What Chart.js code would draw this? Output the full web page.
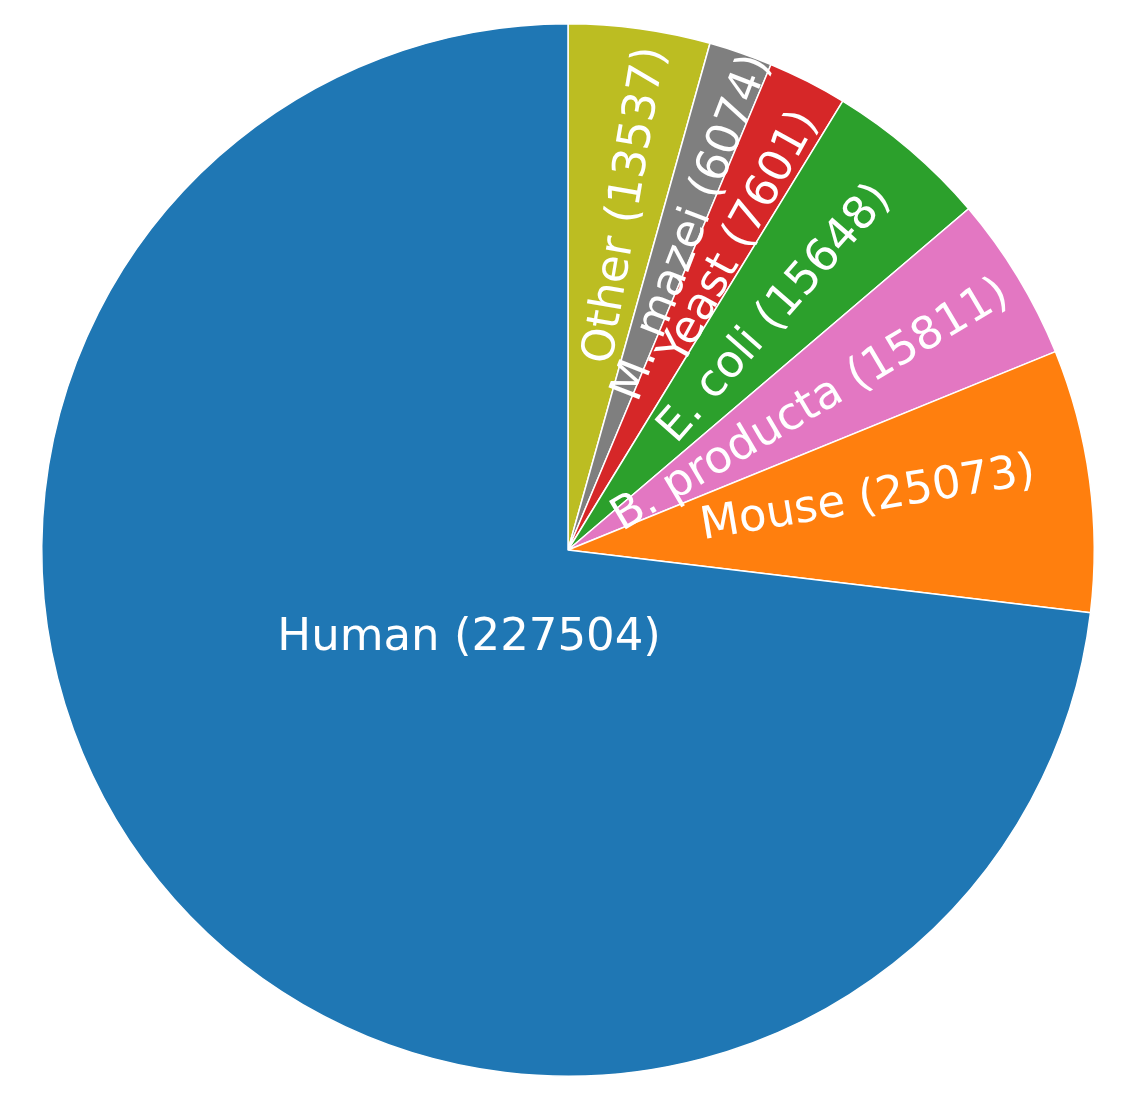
<!DOCTYPE html>
<html>
<head>
<meta charset="utf-8">
<title>Organisms pie</title>
<script src="https://cdn.jsdelivr.net/npm/chart.js@4/dist/chart.umd.min.js"></script>
<style>
  html, body { margin: 0; padding: 0; background: #fff; }
  #wrap { width: 1124px; height: 1101px; }
</style>
</head>
<body>
<div id="wrap"><canvas id="pie" width="1124" height="1101"></canvas></div>
<script>
'use strict';

// ===== DATA (matplotlib order: counter-clockwise from the top) =====
const organisms = ['Human', 'Mouse', 'B. producta', 'E. coli', 'Yeast', 'M. mazei', 'Other'];
const counts = [227504, 25073, 15811, 15648, 7601, 6074, 13537];
const sliceColors = ['#1f77b4', '#ff7f0e', '#e377c2', '#2ca02c', '#d62728', '#7f7f7f', '#bcbd22'];

// label placement: distance from centre (fraction of radius) and small angle nudge (deg, ccw)
const labelDistance = [0.252, 0.578, 0.536, 0.597, 0.677, 0.656, 0.664];
const labelNudge = [0.2, 1.9, -0.6, -0.8, -1.8, -2.0, -1.8];

// Chart.js draws clockwise, so reverse everything
const labels = organisms.slice().reverse();
const values = counts.slice().reverse();
const colors = sliceColors.slice().reverse();
const distances = labelDistance.slice().reverse();
const nudges = labelNudge.slice().reverse();

// ===== LABELS DRAWN ON THE SLICES =====
const sliceLabels = {
    id: 'sliceLabels',
    afterDatasetsDraw: function(chart) {
        const ctx = chart.ctx;
        const arcs = chart.getDatasetMeta(0).data;
        ctx.save();
        ctx.fillStyle = '#ffffff';
        ctx.font = '45px "DejaVu Sans"';
        ctx.textAlign = 'center';
        ctx.textBaseline = 'middle';
        arcs.forEach(function(arc, i) {
            const p = arc.getProps(['x', 'y', 'startAngle', 'endAngle', 'outerRadius'], true);
            const ang = (p.startAngle + p.endAngle) / 2 - nudges[i] * Math.PI / 180;
            const d = distances[i] * p.outerRadius;
            const text = labels[i] + ' (' + values[i] + ')';
            ctx.save();
            ctx.translate(p.x + Math.cos(ang) * d, p.y + Math.sin(ang) * d);
            // the big slice keeps a horizontal label, the others follow the radius
            if (labels[i] !== 'Human') {
                ctx.rotate(ang);
            }
            ctx.fillText(text, 0, 0);
            ctx.restore();
        });
        ctx.restore();
    }
};

new Chart(document.getElementById('pie'), {
    type: 'pie',
    data: {
        labels: labels,
        datasets: [{
            data: values,
            backgroundColor: colors,
            borderColor: '#ffffff',
            borderWidth: 1.5
        }]
    },
    options: {
        responsive: false,
        animation: false,
        rotation: 0,
        layout: { padding: { left: 41, right: 29, top: 23, bottom: 24 } },
        plugins: {
            legend: { display: false },
            tooltip: { enabled: false }
        }
    },
    plugins: [sliceLabels]
});
</script>
</body>
</html>
